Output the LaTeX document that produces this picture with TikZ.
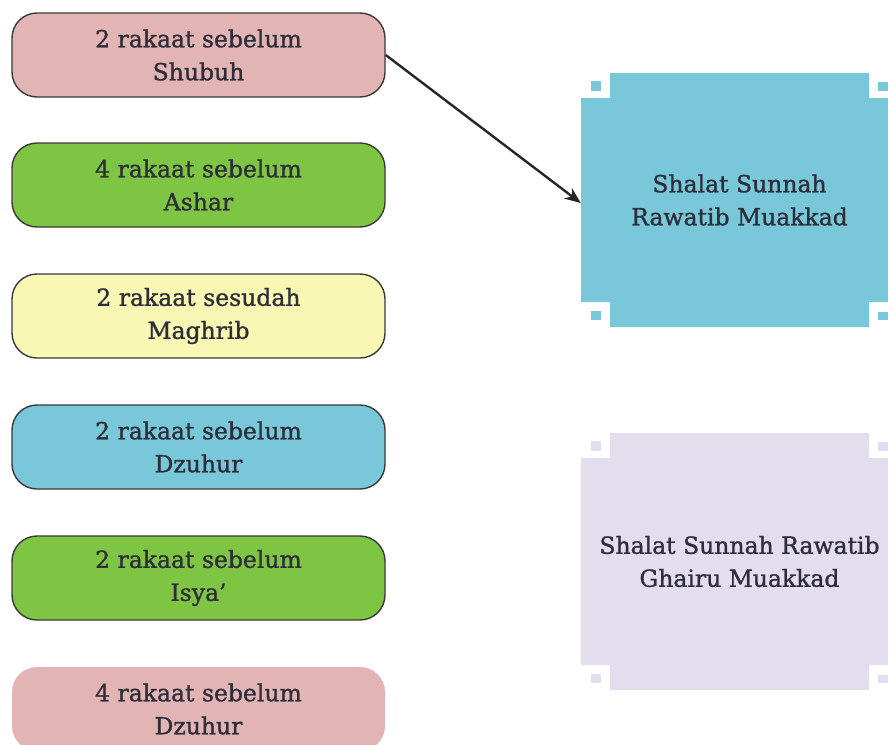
\documentclass[tikz,border=0pt]{standalone}
\usepackage{fontspec}
\setmainfont[FakeBold=1.2]{DejaVu Serif}
\usetikzlibrary{arrows.meta}
\definecolor{pinkbox}{HTML}{E3B4B4}
\definecolor{greenbox}{HTML}{7EC544}
\definecolor{yellowbox}{HTML}{F8F8B4}
\definecolor{bluebox}{HTML}{78C8DA}
\definecolor{lilacbox}{HTML}{E4DDEE}
\definecolor{edgegray}{HTML}{3A3A3A}
\definecolor{inkgray}{HTML}{2E2E3A}
\tikzset{
  rakaat/.style={draw=edgegray, line width=1.4pt, rounded corners=25pt,
    minimum width=373pt, minimum height=84pt, align=center, text=inkgray,
    font=\fontsize{23.5}{33}\selectfont},
  rawatib/.style={minimum width=317pt, minimum height=254pt, align=center,
    text=inkgray, font=\fontsize{23.5}{33}\selectfont}
}
% notched box between two corners, with small squares in the notches
\newcommand{\notchbox}[5]{%
  \fill[#5] (#1+29,#2) -- (#3-29,#2) -- (#3-29,#2+25) -- (#3,#2+25)
    -- (#3,#4-25) -- (#3-29,#4-25) -- (#3-29,#4) -- (#1+29,#4)
    -- (#1+29,#4-25) -- (#1,#4-25) -- (#1,#2+25) -- (#1+29,#2+25) -- cycle;
  \fill[#5] (#1+10,#2+8) rectangle ++(10,10);
  \fill[#5] (#3-20,#2+9) rectangle ++(10,9);
  \fill[#5] (#1+10,#4-16) rectangle ++(10,9);
  \fill[#5] (#3-20,#4-15) rectangle ++(10,8);
}
\begin{document}
\begin{tikzpicture}[x=1pt,y=-1pt]
  \useasboundingbox[fill=white] (0,0) rectangle (888,744);
  % left column
  \node[rakaat,fill=pinkbox] (shubuh) at (198.5,55) {2 rakaat sebelum\\Shubuh};
  \node[rakaat,fill=greenbox] (ashar) at (198.5,185) {4 rakaat sebelum\\Ashar};
  \node[rakaat,fill=yellowbox] (maghrib) at (198.5,316) {2 rakaat sesudah\\Maghrib};
  \node[rakaat,fill=bluebox] (dzuhur) at (198.5,447) {2 rakaat sebelum\\Dzuhur};
  \node[rakaat,fill=greenbox] (isya) at (198.5,578) {2 rakaat sebelum\\Isya’};
  \node[rakaat,draw=none,fill=pinkbox] (dzuhurb) at (198.5,709) {4 rakaat sebelum\\Dzuhur};
  % right column
  \notchbox{581}{73}{898}{327}{bluebox}
  \node[rawatib] (muakkad) at (739.5,200) {Shalat Sunnah\\Rawatib Muakkad};
  \notchbox{581}{433}{898}{690}{lilacbox}
  \node[rawatib] (ghairu) at (739.5,561.5) {Shalat Sunnah Rawatib\\Ghairu Muakkad};
  \draw[-{Stealth[length=16pt,width=13pt]}, line width=2.4pt, draw=black!85]
    (shubuh.east) -- ([yshift=-3pt]muakkad.west);
\end{tikzpicture}
\end{document}
